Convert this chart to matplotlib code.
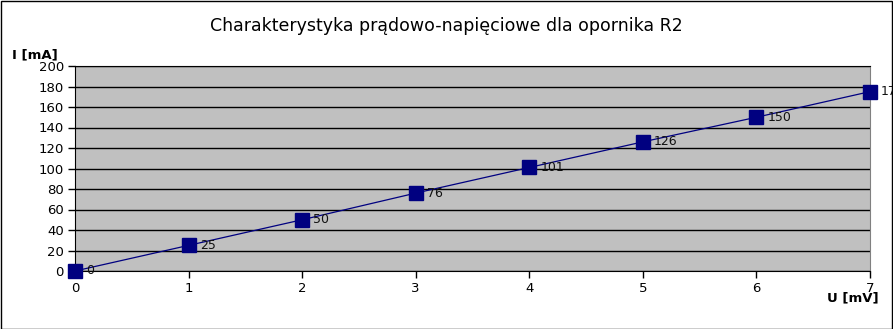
import matplotlib
matplotlib.use("Agg")
import matplotlib.pyplot as plt
from matplotlib.patches import Rectangle

U_mV = [0, 1, 2, 3, 4, 5, 6, 7]
I_mA = [0, 25, 50, 76, 101, 126, 150, 175]
x_ticks = [0, 1, 2, 3, 4, 5, 6, 7]
y_ticks = [0, 20, 40, 60, 80, 100, 120, 140, 160, 180, 200]
title = "Charakterystyka prądowo-napięciowe dla opornika R2"

plt.rcParams['font.family'] = ['DejaVu Sans']
fig = plt.figure(figsize=(8.93, 3.29), dpi=100)
ax = fig.add_axes([75/893, 1-271/329, 795/893, 205/329])
ax.set_facecolor('#c0c0c0')
ax.plot(U_mV, I_mA, color='#000080', lw=0.9, marker='s', markersize=10.5,
        markerfacecolor='#000080', markeredgecolor='#000080', clip_on=False, zorder=3)
for x, y in zip(U_mV, I_mA):
    ax.annotate(str(y), (x, y), xytext=(8, 0), textcoords='offset points',
                ha='left', va='center', fontsize=9, color='#111111',
                annotation_clip=False, zorder=4)
ax.set_xlim(0, 7)
ax.set_ylim(0, 200)
ax.set_xticks(x_ticks)
ax.set_yticks(y_ticks)
ax.tick_params(labelsize=9.5, length=5, width=1, colors='black', pad=3)
ax.yaxis.grid(True, color='black', lw=1)
ax.set_axisbelow(True)
for s in ['left', 'bottom', 'top']:
    ax.spines[s].set_color('black')
ax.spines['right'].set_color('#808080')
fig.text(446/893, 1-26/329, title, ha='center', va='center', fontsize=12.5)
fig.text(12/893, 1-55/329, "I [mA]", ha='left', va='center', fontsize=9.5, fontweight='bold')
fig.text(827/893, 1-298/329, "U [mV]", ha='left', va='center', fontsize=9.5, fontweight='bold')
fig.patches.append(Rectangle((0.5/893, 0.5/329), 1-1.2/893, 1-1.5/329, transform=fig.transFigure,
                             fill=False, edgecolor='black', lw=1.0, zorder=10))
fig.savefig("out.png", dpi=100)
